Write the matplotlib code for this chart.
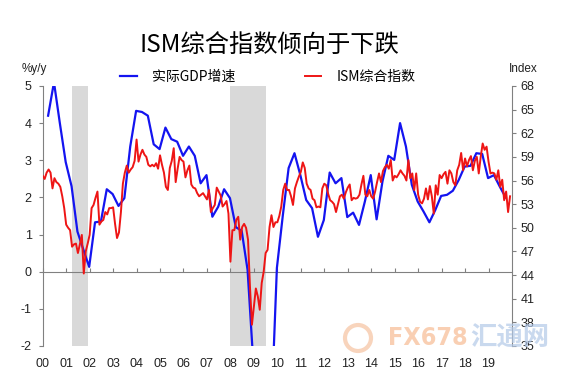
import numpy as np
import matplotlib.pyplot as plt
from matplotlib.patches import Circle
from matplotlib.transforms import IdentityTransform

plt.rcParams['font.family'] = ['Liberation Sans', 'Noto Sans CJK SC', 'DejaVu Sans']
plt.rcParams['axes.unicode_minus'] = False

# 实际GDP增速（同比，季度，2000Q1 - 2019Q3）
gdp = [
    4.2, 5.1, 4.0, 2.95,
    2.3, 1.08, 0.6, 0.13,
    1.33, 1.35, 2.22, 2.09,
    1.77, 1.98, 3.37, 4.33,
    4.3, 4.2, 3.43, 3.3,
    3.88, 3.57, 3.5, 3.12,
    3.37, 3.12, 2.38, 2.6,
    1.48, 1.75, 2.22, 1.98,
    1.2, 1.1, 0.05, -2.5,
    -3.3, -4.0, -4.0, 0.1,
    1.5, 2.79, 3.19, 2.6,
    1.93, 1.71, 0.94, 1.39,
    2.67, 2.38, 2.52, 1.47,
    1.59, 1.26, 1.89, 2.6,
    1.41, 2.43, 3.12, 3.01,
    4.0, 3.37, 2.34, 1.89,
    1.62, 1.33, 1.66, 2.04,
    2.07, 2.18, 2.47, 2.83,
    2.85, 3.19, 3.17, 2.52,
    2.6, 2.29, 2.0,
]

# ISM综合指数（月度，2000-01 - 2019-12）
ism = [
    56.6, 56.2, 57.0, 57.4, 57.0, 55.0, 56.3, 55.8, 55.6, 55.2, 54.0, 52.5,  # 2000
    50.4, 50.0, 49.7, 47.6, 47.9, 48.0, 46.8, 47.9, 49.1, 44.2, 47.0, 48.0,  # 2001
    49.1, 52.5, 52.9, 53.8, 54.6, 50.4, 50.8, 51.0, 52.0, 51.7, 52.5, 52.5,  # 2002
    52.6, 50.5, 48.7, 49.4, 52.0, 55.6, 57.0, 57.9, 57.0, 57.4, 57.7, 58.5,  # 2003
    61.2, 58.4, 59.3, 59.9, 59.3, 59.0, 58.0, 57.8, 58.0, 57.8, 58.2, 57.5,  # 2004
    59.2, 58.0, 57.0, 55.2, 54.8, 57.6, 58.5, 60.1, 55.8, 57.5, 59.0, 58.6,  # 2005
    58.4, 56.4, 57.3, 57.9, 55.5, 55.1, 55.0, 54.4, 54.0, 54.2, 54.4, 54.0,  # 2006
    53.6, 54.8, 52.0, 52.5, 52.9, 55.1, 54.6, 54.1, 52.7, 53.0, 53.4, 51.8,  # 2007
    45.7, 49.7, 49.7, 51.0, 51.4, 48.5, 50.1, 50.5, 50.0, 48.5, 42.5, 37.7,  # 2008
    40.0, 42.3, 41.3, 39.6, 43.0, 44.4, 46.8, 47.2, 50.1, 51.6, 50.1, 50.7,  # 2009
    50.7, 51.5, 52.7, 54.8, 55.6, 54.8, 54.8, 54.0, 52.9, 55.0, 55.8, 56.5,  # 2010
    57.1, 58.3, 57.6, 55.6, 55.0, 54.8, 53.7, 53.5, 52.6, 52.7, 52.6, 55.0,  # 2011
    55.6, 55.4, 54.3, 53.5, 53.3, 53.0, 52.0, 53.0, 54.0, 54.2, 53.7, 54.5,  # 2012
    55.1, 55.5, 53.5, 53.8, 53.7, 53.8, 54.2, 55.5, 56.6, 54.2, 54.0, 54.8,  # 2013
    54.0, 53.7, 54.6, 55.8, 56.9, 55.8, 57.2, 57.7, 58.0, 57.5, 58.6, 56.0,  # 2014
    56.6, 56.4, 56.8, 57.3, 56.9, 56.6, 56.0, 58.6, 56.3, 56.9, 54.8, 56.9,  # 2015
    54.2, 53.3, 53.1, 53.7, 55.0, 53.6, 55.3, 54.0, 51.8, 55.4, 54.2, 56.7,  # 2016
    56.3, 56.8, 57.1, 55.6, 57.3, 56.9, 55.8, 55.4, 57.3, 58.0, 59.5, 57.3,  # 2017
    58.8, 57.8, 58.6, 59.1, 57.3, 58.5, 59.0, 56.9, 59.0, 60.7, 59.9, 60.3,  # 2018
    58.4, 56.9, 57.0, 56.9, 56.1, 57.3, 55.2, 56.1, 53.5, 54.6, 52.0, 54.0,  # 2019
]

# 衰退期
recessions = [(2001.25, 2001.92), (2008.0, 2009.5)]

years = list(range(2000, 2020))
year_labels = ['%02d' % (y % 100) for y in years]

gdp_x = [2000 + (i + 1) / 4 - 0.02 for i in range(len(gdp))]
ism_x = [2000 + i / 12 for i in range(len(ism))]

fig = plt.figure(figsize=(5.68, 3.74), dpi=100)
ax = fig.add_axes([0.0752, 0.0749, 0.8262, 0.6952])
ax2 = ax.twinx()

for a, b in recessions:
    ax.axvspan(a, b, color='#d9d9d9', lw=0, zorder=0)

l1, = ax.plot(gdp_x, gdp, color='#1414f0', lw=1.6, zorder=3)
l2, = ax2.plot(ism_x, ism, color='#ee1515', lw=1.4, zorder=3)

ax.set_xlim(2000, 2020)
ax.set_ylim(-2, 5)
ax2.set_ylim(35, 68)
ax.set_yticks(range(-2, 6))
ax2.set_yticks(range(35, 69, 3))
ax.set_xticks(years)
ax.set_xticklabels(year_labels)

gray = '#808080'
ax.tick_params(axis='x', length=0, pad=9, labelsize=9, labelcolor='#222222')
ax.tick_params(axis='y', direction='out', length=3, pad=5, labelsize=9,
               color=gray, labelcolor='#222222')
ax2.tick_params(axis='y', direction='out', length=3, pad=3, labelsize=9,
                color=gray, labelcolor='#222222')

for s in ['top', 'bottom', 'right']:
    ax.spines[s].set_visible(False)
for s in ['top', 'bottom', 'left']:
    ax2.spines[s].set_visible(False)
ax.spines['left'].set_color(gray)
ax2.spines['right'].set_color(gray)

# 零线及其刻度
zero = ax.secondary_xaxis(2 / 7)
zero.set_xticks(years)
zero.tick_params(direction='in', length=3, color=gray, labelbottom=False, labeltop=False)
for s in zero.spines.values():
    s.set_color(gray)

fig.text(0.474, 0.88, 'ISM综合指数倾向于下跌', ha='center', va='center',
         fontsize=17.5, family=['Noto Sans CJK SC', 'DejaVu Sans'])
fig.text(22 / 568, 1 - 69 / 374, '%y/y', fontsize=8.5, va='center', color='#222222')
fig.text(509 / 568, 1 - 69 / 374, 'Index', fontsize=8.5, va='center', color='#222222')

fig.legend([l1, l2], ['实际GDP增速', 'ISM综合指数'], loc='center left',
           bbox_to_anchor=(113 / 568, 1 - 77 / 374), ncol=2, frameon=False,
           borderpad=0, handlelength=1.2, handletextpad=1.1, columnspacing=5.0,
           prop={'family': ['Noto Sans CJK SC', 'DejaVu Sans'], 'size': 10})

# 水印
fig.add_artist(Circle((358, 36), 13, transform=IdentityTransform(), fill=False,
                      lw=3, edgecolor='#f4b890', alpha=0.6))
fig.text(388 / 568, 36 / 374, 'FX678', fontsize=18, color='#f8c4a0', alpha=0.8,
         va='center', fontweight='bold', fontstretch='condensed',
         family=['DejaVu Sans'])
fig.text(470 / 568, 36 / 374, '汇通网', fontsize=19, color='#b3c9e8', alpha=0.7,
         va='center', fontweight='bold', family=['Noto Sans CJK SC', 'DejaVu Sans'])

fig.savefig('out.png', dpi=100)
